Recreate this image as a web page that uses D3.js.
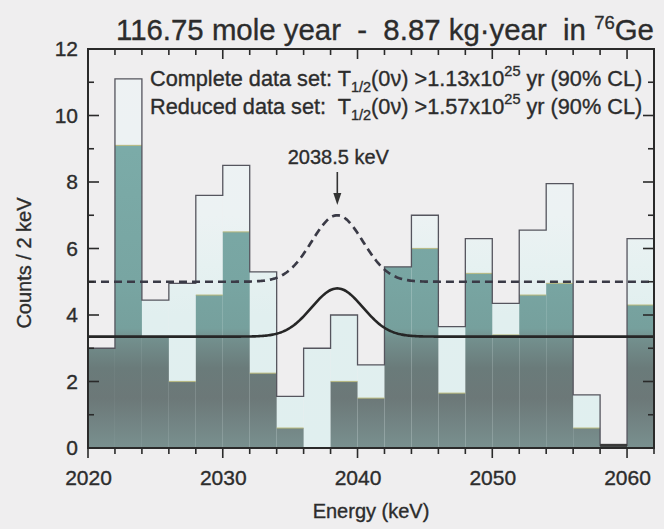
<!DOCTYPE html>
<html><head><meta charset="utf-8">
<script src="https://cdn.jsdelivr.net/npm/d3@7"></script>
<style>
html,body{margin:0;padding:0;background:#efeeef;}
svg{display:block;}
text{font-family:"Liberation Sans",Arial,Helvetica,sans-serif;fill:#2c2c2c;stroke:#2c2c2c;stroke-width:0.35px;white-space:pre;}
</style></head>
<body>
<svg id="chart" width="664" height="529"></svg>
<script>
// ---- data ----
const binStarts = [2020,2022,2024,2026,2028,2030,2032,2034,2036,2038,2040,2042,2044,2046,2048,2050,2052,2054,2056,2058,2060];
const binWidth = 2;
const completeCounts = [3.0,11.1,4.45,4.95,7.6,8.5,5.3,1.55,3.0,4.0,2.5,5.45,7.0,3.65,6.3,4.35,6.55,7.95,1.6,0.08,6.3];
const reducedCounts  = [3.0,9.1,3.35,2.0,4.6,6.5,2.25,0.6,0.0,2.0,1.5,5.45,6.0,1.65,5.25,3.4,4.6,4.95,0.6,0.08,4.3];
const yTickValues = [0,2,4,6,8,10,12];
const xTickValues = [2020,2030,2040,2050,2060];
// fit curves: constant background + gaussian at the Q value
const peakEnergy = 2038.5;
const peakSigma = 1.9;
const solidBackground = 3.35, solidPeak = 1.45;
const dashedBackground = 5.0, dashedPeak = 2.0;

// ---- layout ----
const svg = d3.select("#chart");
const L = 88, R = 654, T = 49, B = 448;
const x = d3.scaleLinear().domain([2020, 2062]).range([L, R]);
const y = d3.scaleLinear().domain([0, 12]).range([B, T]);

const defs = svg.append("defs");
function grad(id, stops){
  const g = defs.append("linearGradient").attr("id", id)
    .attr("gradientUnits","userSpaceOnUse").attr("x1",0).attr("x2",0)
    .attr("y1", y(12)).attr("y2", y(0));
  stops.forEach(([v,c]) => g.append("stop").attr("offset", (12 - v)/12).attr("stop-color", c));
}
grad("gReduced", [[12,"#80aeab"],[9,"#7baba8"],[5,"#78a5a2"],[3.6,"#76a09d"],[3.3,"#73908e"],[2.4,"#6a7b7a"],[1.5,"#6c7878"],[0,"#79908f"]]);
grad("gComplete", [[12,"#eef2f3"],[7,"#ecf2f3"],[5.5,"#e6f1f1"],[4,"#e1efef"],[0,"#e0efef"]]);

svg.append("rect").attr("x",L).attr("y",T).attr("width",R-L).attr("height",B-T).attr("fill","#efeeef");

const bins = binStarts.map((s,i)=>({s, c: completeCounts[i], r: reducedCounts[i]}));

// complete data set (light)
svg.append("g").selectAll("rect").data(bins).join("rect")
  .attr("x", d => x(d.s)).attr("width", d => x(d.s + binWidth) - x(d.s))
  .attr("y", d => y(d.c)).attr("height", d => y(0) - y(d.c))
  .attr("fill","url(#gComplete)");
// reduced data set (teal)
svg.append("g").selectAll("rect").data(bins).join("rect")
  .attr("x", d => x(d.s)).attr("width", d => x(d.s + binWidth) - x(d.s))
  .attr("y", d => y(d.r)).attr("height", d => y(0) - y(d.r))
  .attr("fill","url(#gReduced)");
// faint yellowish top edges of the reduced bins (as in the print)
svg.append("g").selectAll("line").data(bins.filter(d => d.r > 0.2 && d.r < d.c)).join("line")
  .attr("x1", d => x(d.s)).attr("x2", d => x(d.s + binWidth))
  .attr("y1", d => y(d.r)).attr("y2", d => y(d.r))
  .attr("stroke","#b9b878").attr("stroke-width",1.2).attr("opacity",0.8);

// outline of complete histogram
const stepPts = [[2020,0]];
bins.forEach(d => { stepPts.push([d.s, d.c]); stepPts.push([d.s + binWidth, d.c]); });
const stepLine = d3.line().x(p => x(p[0])).y(p => y(p[1]));
svg.append("path").attr("d", stepLine(stepPts)).attr("fill","none")
  .attr("stroke","#55555e").attr("stroke-width",1.3);
// near-empty bin drawn as a dark bar
svg.append("g").selectAll("line").data(bins.filter(d => d.c > 0 && d.c < 0.2)).join("line")
  .attr("x1", d => x(d.s)).attr("x2", d => x(d.s + binWidth))
  .attr("y1", d => y(d.c)).attr("y2", d => y(d.c))
  .attr("stroke","#3a3a3a").attr("stroke-width",3);

// fit curves
const es = d3.range(2020, 2062.001, 0.1);
const g = (e, bg, a) => bg + a * Math.exp(-0.5 * Math.pow((e - peakEnergy)/peakSigma, 2));
const curve = d3.line().x(e => x(e));
svg.append("path").attr("d", curve.y(e => y(g(e, dashedBackground, dashedPeak)))(es))
  .attr("fill","none").attr("stroke","#3a3a46").attr("stroke-width",2.7).attr("stroke-dasharray","8,5");
svg.append("path").attr("d", curve.y(e => y(g(e, solidBackground, solidPeak)))(es))
  .attr("fill","none").attr("stroke","#262626").attr("stroke-width",2.6);

// frame & ticks
const ax = svg.append("g").attr("stroke","#2a2a2a").attr("fill","none");
ax.append("rect").attr("x",L).attr("y",T).attr("width",R-L).attr("height",B-T).attr("stroke-width",2);
const minorY = d3.range(0, 13, 1);
minorY.forEach(v => {
  const len = v % 2 === 0 ? 11 : 6;
  ax.append("line").attr("x1",L).attr("x2",L+len).attr("y1",y(v)).attr("y2",y(v)).attr("stroke-width",1.6);
  ax.append("line").attr("x1",R).attr("x2",R-len).attr("y1",y(v)).attr("y2",y(v)).attr("stroke-width",1.6);
});
const minorX = d3.range(2020, 2063, 2);
minorX.forEach(v => {
  const len = v % 10 === 0 ? 10 : 6;
  ax.append("line").attr("x1",x(v)).attr("x2",x(v)).attr("y1",B).attr("y2",B+len).attr("stroke-width",1.6);
  ax.append("line").attr("x1",x(v)).attr("x2",x(v)).attr("y1",T).attr("y2",T+len).attr("stroke-width",1.6);
});

// tick labels via axis generators
const yAxis = d3.axisLeft(y).tickValues(yTickValues).tickSize(0).tickPadding(10);
const yg = svg.append("g").attr("transform",`translate(${L},0)`).call(yAxis);
yg.select(".domain").remove();
yg.selectAll("text").attr("font-size",21).attr("fill","#2c2c2c")
  .style("font-family",'"Liberation Sans",Arial,sans-serif');
const xAxis = d3.axisBottom(x).tickValues(xTickValues).tickFormat(d3.format("d")).tickSize(0).tickPadding(22);
const xg = svg.append("g").attr("transform",`translate(0,${B})`).call(xAxis);
xg.select(".domain").remove();
xg.selectAll("text").attr("font-size",21).attr("fill","#2c2c2c")
  .style("font-family",'"Liberation Sans",Arial,sans-serif');

// axis titles
svg.append("text").attr("x",371).attr("y",518).attr("text-anchor","middle").attr("font-size",20).text("Energy (keV)");
svg.append("text").attr("transform","translate(31,263) rotate(-90)").attr("text-anchor","middle").attr("font-size",20).text("Counts / 2 keV");

// title
const title = svg.append("text").attr("x",116).attr("y",40).attr("font-size",29.4);
title.append("tspan").text("116.75 mole year  -  8.87 kg\u00b7year  in ");
title.append("tspan").attr("font-size",18.5).attr("dy",-11).text("76");
title.append("tspan").attr("dy",11).text("Ge");

// legend
function legendLine(yy, label, val){
  const t = svg.append("text").attr("x",150).attr("y",yy).attr("font-size",21.7);
  t.append("tspan").text(label + "T");
  t.append("tspan").attr("font-size",14.5).attr("dy",6).text("1/2");
  t.append("tspan").attr("dy",-6).text("(0\u03bd) >" + val + "x10");
  t.append("tspan").attr("font-size",14.5).attr("dy",-10).text("25");
  t.append("tspan").attr("dy",10).text(" yr (90% CL)");
}
legendLine(86, "Complete data set: ", "1.13");
legendLine(114, "Reduced data set:  ", "1.57");

// peak annotation
const px = x(peakEnergy);
svg.append("text").attr("x",px+1).attr("y",164).attr("text-anchor","middle").attr("font-size",20).text("2038.5 keV");
svg.append("line").attr("x1",px).attr("x2",px).attr("y1",172).attr("y2",198).attr("stroke","#333").attr("stroke-width",1.6);
svg.append("path").attr("d",`M${px-4},${193}L${px+4},${193}L${px},${205}Z`).attr("fill","#333");
</script>
</body></html>
